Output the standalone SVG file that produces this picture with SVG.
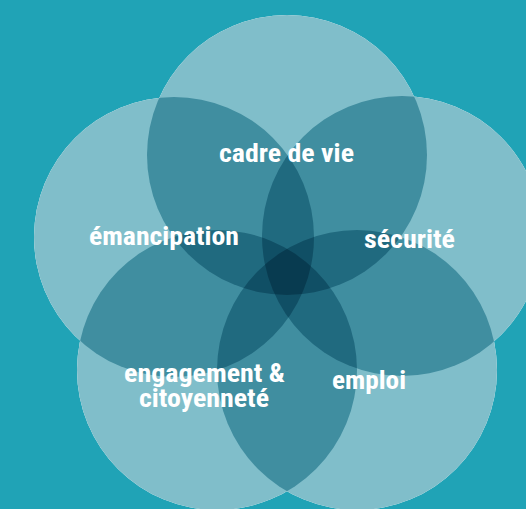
<svg xmlns="http://www.w3.org/2000/svg" width="526" height="509" viewBox="0 0 526 509">
  <defs>
    <style>
      .base { fill: #ffffff; }
      .petal { fill: #80BECA; mix-blend-mode: multiply; }
      .lbl { fill: #ffffff; font-family: "Roboto Condensed", Roboto, "Liberation Sans", sans-serif; font-weight: 700; font-size: 25px; }
    </style>
  </defs>
  <rect width="526" height="509" fill="#20A3B6"/>
  <g id="diagram" style="isolation:isolate">
    <g id="base">
      <circle class="base" cx="287" cy="155" r="140"/>
      <circle class="base" cx="402" cy="236" r="140"/>
      <circle class="base" cx="174" cy="237" r="140"/>
      <circle class="base" cx="217" cy="370" r="140"/>
      <circle class="base" cx="357" cy="370" r="140"/>
    </g>
    <g id="node-cadre-de-vie"><circle class="petal" cx="287" cy="155" r="140"/></g>
    <g id="node-securite"><circle class="petal" cx="402" cy="236" r="140"/></g>
    <g id="node-emancipation"><circle class="petal" cx="174" cy="237" r="140"/></g>
    <g id="node-engagement"><circle class="petal" cx="217" cy="370" r="140"/></g>
    <g id="node-emploi"><circle class="petal" cx="357" cy="370" r="140"/></g>
  </g>
  <g id="labels">
    <text id="label-cadre-de-vie" class="lbl" x="219" y="162" textLength="135" lengthAdjust="spacingAndGlyphs">cadre de vie</text>
    <text id="label-emancipation" class="lbl" x="89" y="245" textLength="150" lengthAdjust="spacingAndGlyphs">émancipation</text>
    <text id="label-securite" class="lbl" x="364" y="248" textLength="91" lengthAdjust="spacingAndGlyphs">sécurité</text>
    <text id="label-engagement-1" class="lbl" x="124" y="382" textLength="161" lengthAdjust="spacingAndGlyphs">engagement &amp;</text>
    <text id="label-engagement-2" class="lbl" x="139" y="407" textLength="130" lengthAdjust="spacingAndGlyphs">citoyenneté</text>
    <text id="label-emploi" class="lbl" x="332" y="389" textLength="74" lengthAdjust="spacingAndGlyphs">emploi</text>
  </g>
</svg>
